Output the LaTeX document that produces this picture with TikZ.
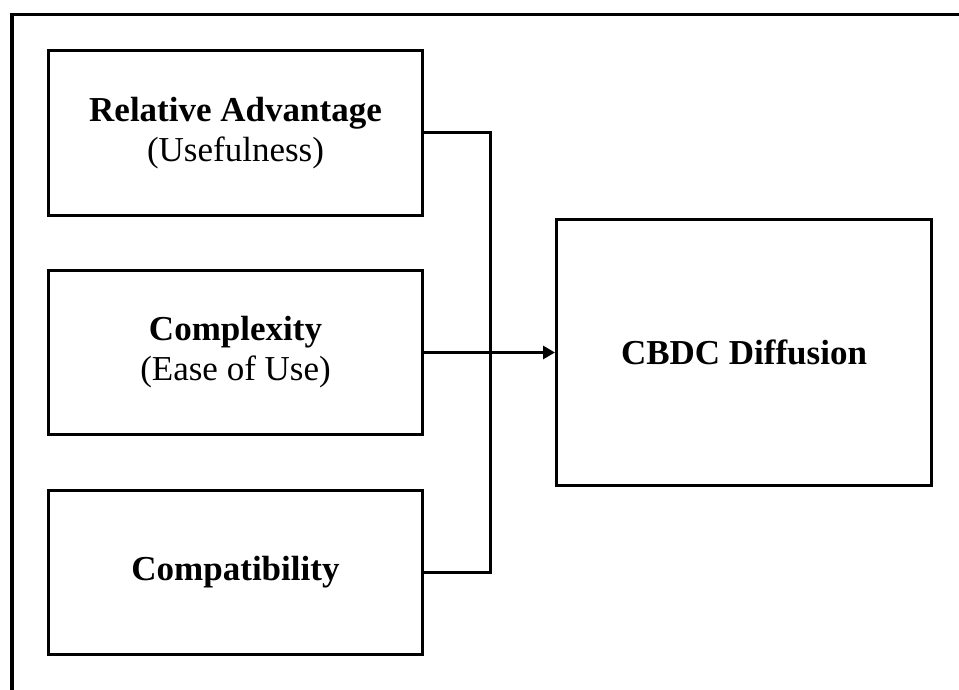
\documentclass[tikz,border=0pt]{standalone}
\usepackage{fontspec}
\setmainfont{Liberation Serif}
\usetikzlibrary{arrows.meta}
\begin{document}
\begin{tikzpicture}[x=1pt,y=-1pt,
  factor/.style={draw, line width=3pt, minimum width=374pt, minimum height=164pt,
    align=center, font=\fontsize{35}{40}\selectfont, inner sep=0pt},
  outcome/.style={draw, line width=3pt, minimum width=375pt, minimum height=266pt,
    align=center, font=\fontsize{35}{40}\selectfont\bfseries, inner sep=0pt},
  link/.style={line width=3pt},
  flow/.style={line width=3pt, -{Triangle[length=12pt,width=13pt]}}]
  \useasboundingbox (0,0) rectangle (959,690);
  % open outer frame
  \draw[line width=3.8pt] (12,690) -- (12,14.5) -- (959,14.5);
  % determinant boxes
  \node[factor] (adv) at (235.5,133) {\textbf{Relative Advantage}\\(Usefulness)};
  \node[factor] (cplx) at (235.5,352.5) {\textbf{Complexity}\\(Ease of Use)};
  \node[factor] (comp) at (235.5,572) {\textbf{Compatibility}};
  % outcome box
  \node[outcome] (cbdc) at (744,352.5) {CBDC Diffusion};
  % bracket joining the first and third boxes
  \coordinate (bend) at (490,133);
  \draw[link] (adv.east) -- (bend) |- (comp.east);
  % arrow into the outcome
  \draw[flow] (cplx.east) -- (cbdc.west);
\end{tikzpicture}
\end{document}
